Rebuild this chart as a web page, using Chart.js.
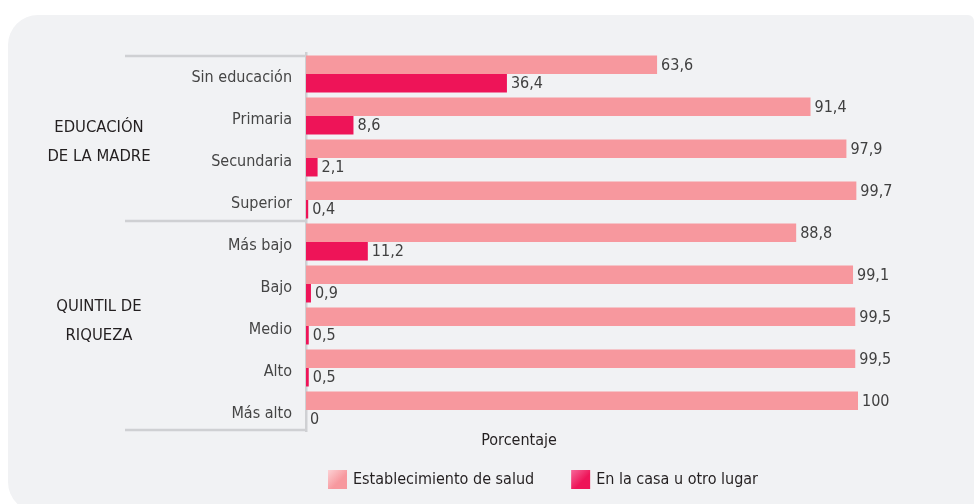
<!DOCTYPE html>
<html lang="es">
<head>
<meta charset="utf-8">
<title>Lugar del parto</title>
<script src="https://cdn.jsdelivr.net/npm/chart.js@4.4.1/dist/chart.umd.min.js"></script>
<style>
  html, body { margin: 0; padding: 0; background: #ffffff; }
  #wrap { position: relative; width: 974px; height: 504px; overflow: hidden; }
  #panel {
    position: absolute; left: 8px; top: 15px; width: 966px; height: 497px;
    background: #f1f2f4; border-radius: 30px 6px 0 30px;
  }
  #chartBox { position: absolute; left: 0; top: 0; width: 974px; height: 504px; }
</style>
</head>
<body>
<div id="wrap">
  <div id="panel"></div>
  <div id="chartBox"><canvas id="chart"></canvas></div>
</div>
<script>
// Categories (top to bottom) and the two series, in percent
const categories = ['Sin educación', 'Primaria', 'Secundaria', 'Superior',
                    'Más bajo', 'Bajo', 'Medio', 'Alto', 'Más alto'];
const establecimientoSalud = [63.6, 91.4, 97.9, 99.7, 88.8, 99.1, 99.5, 99.5, 100];
const casaOtroLugar = [36.4, 8.6, 2.1, 0.4, 11.2, 0.9, 0.5, 0.5, 0];
const seriesNames = ['Establecimiento de salud', 'En la casa u otro lugar'];

// Category groups shown on the far left
const groupLabels = [['EDUCACIÓN', 'DE LA MADRE'], ['QUINTIL DE', 'RIQUEZA']];
const groupSizes = [4, 5];

const axisTitle = 'Porcentaje';

const FONT = '"DejaVu Sans Condensed", "DejaVu Sans", sans-serif';
const PINK = '#f7989e';
const MAGENTA = '#ee1458';
const LINE = '#cfd0d3';

const fmt = v => String(v).replace('.', ',');

// Decorations: group separators, group names, value labels, axis title, legend
const decorations = {
  id: 'decorations',
  afterDatasetsDraw(chart) {
    const { ctx, chartArea, scales } = chart;
    const y = scales.y;
    const band = y.getPixelForValue(1) - y.getPixelForValue(0);
    ctx.save();

    // separators between groups
    const bounds = [chartArea.top + 3];
    let idx = 0;
    groupSizes.forEach((n, g) => {
      idx += n;
      bounds.push(g === groupSizes.length - 1
        ? chartArea.bottom - 1
        : y.getPixelForValue(idx - 1) + band / 2);
    });
    ctx.strokeStyle = LINE;
    ctx.lineWidth = 2.5;
    bounds.forEach(b => {
      ctx.beginPath();
      ctx.moveTo(125, b);
      ctx.lineTo(chartArea.left, b);
      ctx.stroke();
    });

    // group names
    ctx.fillStyle = '#231f20';
    ctx.font = '16.5px ' + FONT;
    ctx.textAlign = 'center';
    ctx.textBaseline = 'middle';
    const shifts = [4, -4];
    groupLabels.forEach((lines, g) => {
      const mid = (bounds[g] + bounds[g + 1]) / 2 + shifts[g];
      lines.forEach((t, i) => {
        ctx.fillText(t, 99, mid + (i - (lines.length - 1) / 2) * 29);
      });
    });

    // value labels at the end of every bar
    ctx.fillStyle = '#404040';
    ctx.font = '16px ' + FONT;
    ctx.textAlign = 'left';
    chart.data.datasets.forEach((ds, di) => {
      chart.getDatasetMeta(di).data.forEach((bar, i) => {
        ctx.fillText(fmt(ds.data[i]), bar.x + 4, bar.y + 1);
      });
    });

    // axis title
    ctx.fillStyle = '#231f20';
    ctx.textAlign = 'center';
    ctx.fillText(axisTitle, 519, 441);

    // legend
    ctx.textAlign = 'left';
    let x = 328;
    const ly = 480;
    const swatches = [['#fcd2d5', PINK], ['#f6689a', MAGENTA]];
    chart.data.datasets.forEach((ds, di) => {
      const grad = ctx.createLinearGradient(x, ly - 10, x + 19, ly + 9);
      grad.addColorStop(0, swatches[di][0]);
      grad.addColorStop(0.6, swatches[di][1]);
      grad.addColorStop(1, swatches[di][1]);
      ctx.fillStyle = grad;
      ctx.fillRect(x, ly - 10, 19, 19);
      ctx.fillStyle = '#231f20';
      ctx.fillText(ds.label, x + 25, ly);
      x += 25 + ctx.measureText(ds.label).width + 37;
    });

    ctx.restore();
  }
};

new Chart(document.getElementById('chart'), {
  type: 'bar',
  data: {
    labels: categories,
    datasets: [
      { label: seriesNames[0], data: establecimientoSalud, backgroundColor: PINK },
      { label: seriesNames[1], data: casaOtroLugar, backgroundColor: MAGENTA }
    ]
  },
  options: {
    indexAxis: 'y',
    responsive: true,
    maintainAspectRatio: false,
    animation: false,
    layout: { padding: { top: 53, bottom: 73, left: 0, right: 116 } },
    datasets: { bar: { categoryPercentage: 0.88, barPercentage: 1, borderWidth: 0 } },
    plugins: { legend: { display: false }, tooltip: { enabled: false } },
    scales: {
      x: { display: false, min: 0, max: 100 },
      y: {
        grid: { display: false, drawTicks: false },
        border: { display: true, color: LINE, width: 2.5 },
        ticks: {
          padding: 14,
          labelOffset: 4,
          color: '#454545',
          font: { family: FONT, size: 16 }
        },
        afterFit(scale) { scale.width = 306; }
      }
    }
  },
  plugins: [decorations]
});
</script>
</body>
</html>
